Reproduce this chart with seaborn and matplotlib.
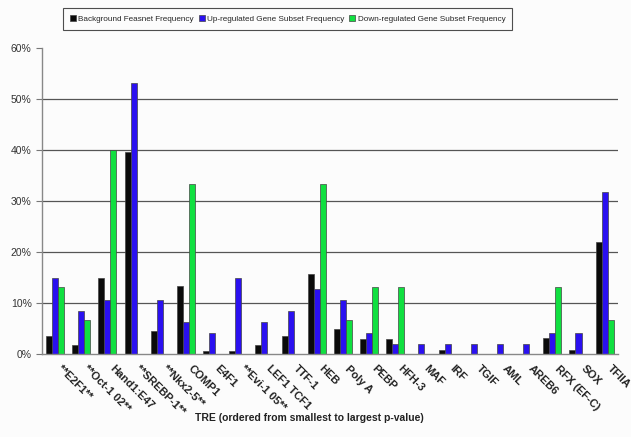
import matplotlib
matplotlib.use("Agg")
import matplotlib.pyplot as plt
import matplotlib.transforms as mtransforms
import seaborn as sns
import pandas as pd

categories = ["**E2F1**", "**Oct-1 02**", "Hand1:E47", "**SREBP-1**", "**Nkx2-5**",
              "COMP1", "E4F1", "**Evi-1 05**", "LEF1 TCF1", "TTF-1", "HEB", "Poly A",
              "PEBP", "HFH-3", "MAF", "IRF", "TGIF", "AML", "AREB6", "RFX (EF-C)",
              "SOX", "TFIIA"]
background = [3.7, 1.8, 15.0, 39.7, 4.6, 13.4, 0.7, 0.7, 1.8, 3.7, 15.7, 4.9,
              3.0, 3.1, 0.1, 0.8, 0.1, 0.1, 0.1, 3.3, 0.9, 22.0]
upregulated = [14.9, 8.5, 10.6, 53.2, 10.6, 6.4, 4.3, 14.9, 6.4, 8.5, 12.8, 10.6,
               4.3, 2.1, 2.1, 2.1, 2.1, 2.1, 2.1, 4.3, 4.3, 31.9]
downregulated = [13.3, 6.7, 40.0, 0, 0, 33.3, 0, 0, 0, 0, 33.3, 6.7,
                 13.3, 13.3, 0, 0, 0, 0, 0, 13.3, 0, 6.7]
series_names = ["Background Feasnet Frequency", "Up-regulated Gene Subset Frequency",
                "Down-regulated Gene Subset Frequency"]
colors = ["#0a0a0a", "#2a10f0", "#10e040"]

rows = []
for name, vals in zip(series_names, [background, upregulated, downregulated]):
    for c, v in zip(categories, vals):
        rows.append({"TRE": c, "Series": name, "Value": v})
df = pd.DataFrame(rows)

sns.set_style("white")
plt.rcParams["font.family"] = ["Liberation Sans", "DejaVu Sans"]

fig = plt.figure(figsize=(6.31, 4.37), dpi=100)
fig.patch.set_facecolor("#fcfcfc")
ax = fig.add_axes([0.0666, 0.1888, 0.9124, 0.7012])
ax.set_facecolor("#fcfcfc")

sns.barplot(data=df, x="TRE", y="Value", hue="Series", hue_order=series_names,
            palette=colors, width=0.69, ax=ax, edgecolor="#444444", linewidth=0.5,
            saturation=1, legend=True)

ax.set_ylim(0, 60)
ax.set_xlim(-0.5, len(categories) - 0.5)
ax.set_yticks(range(0, 61, 10))
ax.set_yticklabels([f"{v}%" for v in range(0, 61, 10)], fontsize=7.5, color="#333333")
for y in range(10, 51, 10):
    ax.axhline(y, color="#555555", linewidth=0.9, zorder=0)

ax.set_xticks([i - 0.5 for i in range(len(categories) + 1)], minor=True)
ax.tick_params(axis="x", which="minor", length=4, width=0.8, color="#777777", direction="out")
ax.tick_params(axis="y", length=4, width=0.8, color="#777777", direction="out", left=True)
ax.tick_params(axis="x", which="major", length=0, pad=6)
ax.set_xticks(range(len(categories)))
ax.set_xticklabels(categories, rotation=-45, ha="left", va="top",
                   rotation_mode="anchor", fontsize=8, fontweight="bold", color="#222222")
offset = mtransforms.ScaledTranslation(0.075, -0.01, fig.dpi_scale_trans)
for lbl in ax.get_xticklabels():
    lbl.set_transform(lbl.get_transform() + offset)

for s in ["top", "right"]:
    ax.spines[s].set_visible(False)
for s in ["left", "bottom"]:
    ax.spines[s].set_color("#888888")
    ax.spines[s].set_linewidth(1.0)

ax.set_xlabel("TRE (ordered from smallest to largest p-value)", fontsize=7.5,
              fontweight="bold", color="#222222")
ax.xaxis.set_label_coords(0.465, -0.19)
ax.set_ylabel("")

leg = ax.legend(loc="center", bbox_to_anchor=(0.427, 1.095), ncol=3, frameon=True,
                fontsize=5.9, handlelength=0.7, handleheight=0.7,
                handletextpad=0.3, columnspacing=0.6, borderpad=0.85, fancybox=False)
leg.get_frame().set_edgecolor("#222222")
leg.get_frame().set_linewidth(0.8)
leg.get_frame().set_facecolor("#fcfcfc")

fig.savefig("out.png", dpi=100, facecolor=fig.get_facecolor())
